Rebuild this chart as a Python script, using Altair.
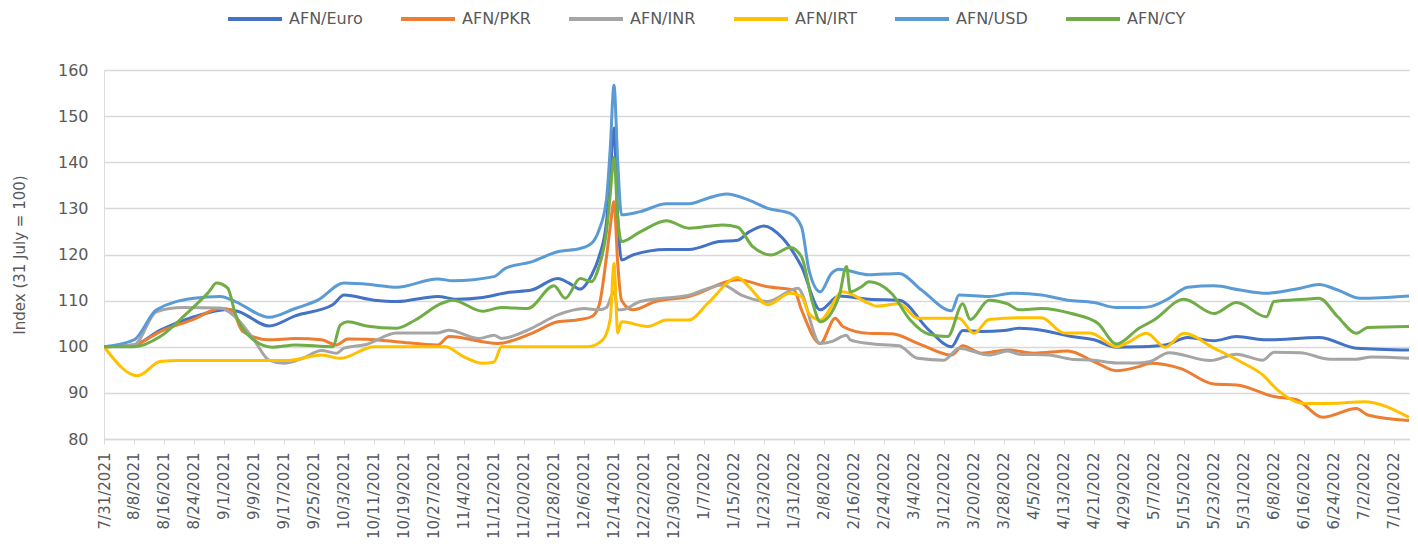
import altair as alt
import pandas as pd

# Day offsets from 31 July 2021 and index values (31 July 2021 = 100)
euro_days = [0, 8, 15, 24, 33, 36, 44, 51, 61, 64, 72, 78, 89, 94, 101, 108, 114, 121, 124, 127,
             130, 132, 134, 135, 136, 137, 138, 141, 150, 156, 164, 169, 172, 176, 181, 186, 191, 196, 204, 212,
             220, 226, 229, 234, 240, 244, 250, 258, 264, 270, 276, 283, 289, 296, 302, 310, 324, 334, 348]
euro_vals = [100, 100.4, 103.6, 106.5, 108.1, 107.6, 104.5, 106.7, 109.1, 111.2, 110.1, 109.8, 110.9, 110.3, 110.7, 111.8, 112.3, 114.8, 113.8, 112.5,
             115.5, 119.5, 127, 137, 147.4, 128, 118.8, 119.9, 121.1, 121.1, 122.8, 123.1, 124.9, 126.2, 123.5, 117.4, 108, 111, 110.3, 110.1,
             103.6, 100, 103.5, 103.3, 103.5, 104, 103.6, 102.2, 101.5, 99.9, 100, 100.4, 102, 101.3, 102.2, 101.5, 102, 99.7, 99.3]

pkr_days = [0, 8, 15, 24, 31, 34, 37, 44, 51, 58, 62, 65, 70, 78, 89, 92, 105, 114, 121, 127,
            130, 132, 134, 135, 136, 137, 138, 141, 147, 156, 169, 177, 184, 186, 191, 195, 197, 204, 210, 218,
            226, 229, 234, 241, 248, 257, 264, 270, 276, 279, 287, 296, 302, 312, 318, 325, 334, 337, 348]
pkr_vals = [100, 100.4, 103.3, 106, 108.3, 108, 103.3, 101.5, 101.8, 101.5, 100.4, 101.7, 101.6, 101.1, 100.4, 102.2, 100.7, 102.9, 105.4, 105.9,
            106.5, 108.9, 119.5, 126, 131.5, 118, 110.1, 108, 109.8, 110.9, 114.5, 113, 112.3, 108, 100.7, 106.2, 104.4, 102.9, 102.8, 100.4,
            98.2, 100.2, 98.6, 99.3, 98.6, 99.1, 96.8, 94.8, 95.7, 96.4, 95.3, 91.9, 91.7, 89.2, 88.5, 84.7, 86.6, 85.2, 84.0]

inr_days = [0, 8, 14, 21, 31, 35, 40, 44, 48, 53, 58, 62, 64, 70, 78, 89, 92, 100, 104, 106,
            114, 121, 128, 132, 134, 136, 137, 138, 143, 156, 165, 170, 177, 185, 191, 194, 198, 199, 204, 212,
            217, 224, 228, 236, 241, 244, 252, 258, 264, 270, 276, 279, 284, 295, 302, 309, 312, 319, 327, 334,
            338, 348]
inr_vals = [100, 100.4, 107.6, 108.5, 108.4, 106.5, 101.5, 97.1, 96.4, 97.5, 99.2, 98.6, 99.7, 100.5, 103, 103, 103.6, 101.8, 102.5, 101.8,
            104, 106.9, 108.3, 108, 108.5, 112, 108, 108, 109.8, 111.2, 113.4, 111.2, 109.8, 112.7, 100.7, 101.1, 102.5, 101.5, 100.7, 100.2,
            97.5, 97.1, 99.7, 98.2, 99.1, 98.4, 98.2, 97.3, 97.1, 96.5, 96.5, 96.8, 98.7, 97, 98.4, 97.1, 98.8, 98.7, 97.3, 97.3,
            97.8, 97.5]

irt_days = [0, 9, 15, 20, 49, 58, 63, 72, 91, 96, 101, 104, 106, 129, 133, 135, 136, 137, 138, 145,
            150, 156, 161, 169, 172, 177, 183, 186, 188, 191, 197, 204, 206, 212, 217, 228, 232, 236, 244, 250,
            256, 263, 270, 273, 278, 283, 288, 296, 303, 309, 313, 320, 327, 336, 348]
irt_vals = [100, 93.7, 96.8, 97, 97, 98.2, 97.5, 100, 100, 97.8, 96.4, 96.7, 100, 100, 101.5, 106, 118.1, 103, 105.4, 104.4,
            105.8, 105.8, 109.4, 115, 113, 109.1, 111.6, 110.9, 107.2, 105.8, 111.9, 109.4, 108.8, 109.3, 106.2, 106.2, 102.9, 105.9, 106.3, 106.3,
            103, 103, 100, 100.9, 102.9, 99.9, 102.9, 99.7, 96.8, 93.9, 90.6, 87.7, 87.7, 88.1, 84.7]

usd_days = [0, 8, 14, 24, 31, 35, 44, 51, 57, 64, 72, 78, 89, 93, 104, 107, 114, 121, 127, 130,
            132, 134, 135, 136, 137, 138, 143, 150, 156, 161, 166, 172, 177, 183, 186, 188, 191, 194, 196, 204,
            212, 218, 226, 228, 236, 242, 250, 257, 264, 270, 276, 279, 284, 289, 296, 303, 310, 319, 324, 329,
            335, 348]
usd_vals = [100, 101.5, 108, 110.5, 110.9, 109.8, 106.4, 108.3, 110.1, 113.8, 113.4, 112.9, 114.7, 114.3, 115.2, 117, 118.4, 120.6, 121.3, 122.4,
            125.3, 132, 143, 156.7, 140, 128.6, 129.3, 131, 131, 132.2, 133.1, 131.8, 130, 128.9, 126, 116.6, 111.9, 115.9, 116.8, 115.6,
            115.9, 112.3, 107.8, 111.2, 110.9, 111.6, 111.2, 110.1, 109.6, 108.5, 108.5, 108.7, 110.5, 112.9, 113.2, 112.3, 111.6, 112.7, 113.5, 112.3,
            110.5, 111]

cy_days = [0, 8, 15, 22, 28, 30, 33, 35, 38, 45, 51, 61, 63, 65, 70, 78, 83, 90, 93, 101,
           106, 113, 120, 123, 127, 130, 132, 134, 135, 136, 137, 138, 143, 150, 156, 165, 169, 173, 178, 183,
           186, 189, 191, 196, 198, 199, 202, 204, 210, 215, 220, 225, 229, 231, 236, 241, 244, 250, 258, 265,
           270, 276, 280, 288, 296, 302, 310, 312, 320, 324, 329, 334, 337, 348]
cy_vals = [100, 100, 102.2, 107.2, 111.9, 113.8, 112.7, 107.2, 102.9, 99.9, 100.4, 100, 104.7, 105.4, 104.5, 104, 105.8, 109.4, 110.1, 107.7,
           108.5, 108.3, 113.2, 110.5, 114.8, 114.1, 117.4, 125, 133, 141.1, 128, 122.8, 124.9, 127.3, 125.7, 126.4, 125.9, 121.7, 119.9, 121.5,
           119.5, 109.4, 105.4, 110.9, 117.4, 111.9, 113, 114.1, 111.6, 105.8, 102.7, 102.2, 109.3, 105.9, 110.1, 109.3, 108, 108.3, 107.2, 105.1,
           100.6, 104, 105.8, 110.3, 107.2, 109.6, 106.5, 109.8, 110.3, 110.5, 106.5, 102.9, 104.2, 104.4]

series_names = ["AFN/Euro", "AFN/PKR", "AFN/INR", "AFN/IRT", "AFN/USD", "AFN/CY"]
series_colors = ["#4472C4", "#ED7D31", "#A5A5A5", "#FFC000", "#5B9BD5", "#70AD47"]
tick_days = list(range(0, 345, 8))
y_ticks = list(range(80, 161, 10))

series_data = [
    (euro_days, euro_vals), (pkr_days, pkr_vals), (inr_days, inr_vals),
    (irt_days, irt_vals), (usd_days, usd_vals), (cy_days, cy_vals),
]
rows = []
for order, (name, (d, v)) in enumerate(zip(series_names, series_data)):
    for dd, vv in zip(d, v):
        rows.append({"series": name, "day": dd, "value": vv, "k": order})
df = pd.DataFrame(rows)

FONT = "DejaVu Sans"
TXT = "#595959"
GRID = "#D9D9D9"

chart = alt.Chart(df).mark_line(strokeWidth=3, interpolate="monotone", clip=True).encode(
    x=alt.X("day:Q",
            scale=alt.Scale(domain=[0, 348.27], nice=False, zero=False),
            axis=alt.Axis(values=tick_days, title=None, grid=False,
                          labelExpr="timeFormat(datetime(2021, 6, 31 + datum.value), '%-m/%-d/%Y')",
                          labelAngle=-90, labelFontSize=15, labelColor=TXT, labelFont=FONT,
                          labelOverlap=False, labelBound=False, labelFlush=False,
                          domainColor=GRID, domainWidth=1.5, tickColor=GRID, tickSize=5,
                          labelPadding=8)),
    y=alt.Y("value:Q",
            scale=alt.Scale(domain=[80, 160], nice=False, zero=False),
            axis=alt.Axis(values=y_ticks, title="Index (31 July = 100)", grid=True,
                          gridColor=GRID, gridWidth=1.3, domain=False, ticks=False, tickSize=0,
                          labelFontSize=16, labelColor=TXT, labelFont=FONT, labelPadding=16,
                          titleFontSize=15, titleFont=FONT, titleColor=TXT, titleFontWeight="normal",
                          titlePadding=30)),
    color=alt.Color("series:N",
                    scale=alt.Scale(domain=series_names, range=series_colors),
                    legend=alt.Legend(orient="none", legendX=122, legendY=-80, direction="horizontal",
                                      title=None, symbolType="stroke", symbolStrokeWidth=4,
                                      symbolSize=2916, labelFontSize=16, labelFont=FONT,
                                      labelColor=TXT, columnPadding=30, labelOffset=5)),
    order=alt.Order("day:Q"),
).properties(
    width=1306, height=369,
    autosize=alt.AutoSizeParams(type="none"),
    padding={"left": 96, "top": 62, "right": 0, "bottom": 99},
).configure_view(stroke=None).configure(background="white")

chart.save("out.html", embed_options={"renderer": "svg", "actions": False})
